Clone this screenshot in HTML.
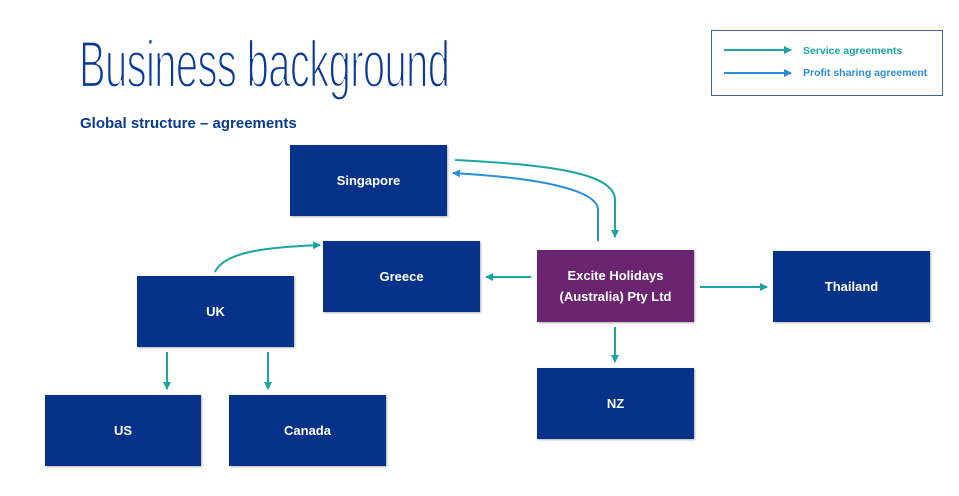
<!DOCTYPE html>
<html><head><style>
body{margin:0;background:#fff;width:959px;height:496px;overflow:hidden;position:relative;font-family:"Liberation Sans",sans-serif}
.t{position:absolute;left:79px;top:26px;font-size:66px;color:#0a3a97;font-weight:normal;transform:scaleX(0.605);transform-origin:0 0;white-space:nowrap;letter-spacing:-1px;-webkit-text-stroke:2.2px #fff;paint-order:normal}
.s{position:absolute;left:80px;top:115px;font-size:15px;font-weight:bold;color:#0a3a8f}
.b{position:absolute;background:#063389;color:#fff;font-size:13px;font-weight:bold;display:flex;align-items:center;justify-content:center;text-align:center;box-shadow:1px 1px 2px rgba(0,0,0,.3);line-height:21px}
</style></head><body>
<div class="t">Business background</div>
<div class="s">Global structure – agreements</div>
<div class="b" style="left:290px;top:145px;width:157px;height:71px">Singapore</div>
<div class="b" style="left:323px;top:241px;width:157px;height:71px">Greece</div>
<div class="b" style="left:137px;top:276px;width:157px;height:71px">UK</div>
<div class="b" style="left:45px;top:395px;width:156px;height:71px">US</div>
<div class="b" style="left:229px;top:395px;width:157px;height:71px">Canada</div>
<div class="b" style="left:537px;top:250px;width:157px;height:72px;background:#6a2470">Excite Holidays<br>(Australia) Pty Ltd</div>
<div class="b" style="left:537px;top:368px;width:157px;height:71px">NZ</div>
<div class="b" style="left:773px;top:251px;width:157px;height:71px">Thailand</div>
<div style="position:absolute;left:711px;top:30px;width:230px;height:64px;border:1.5px solid #4a5fa0"></div>
<div style="position:absolute;left:803px;top:45px;font-size:10.5px;font-weight:bold;color:#1aa5a0">Service agreements</div>
<div style="position:absolute;left:803px;top:67px;font-size:10.5px;font-weight:bold;color:#2a8fd8">Profit sharing agreement</div>
<svg width="959" height="496" style="position:absolute;left:0;top:0">
<defs>
<marker id="g" markerWidth="8" markerHeight="8" refX="7" refY="4" orient="auto" markerUnits="userSpaceOnUse"><path d="M0,0L8,4L0,8z" fill="#1aa5a0"/></marker>
<marker id="bl" markerWidth="8" markerHeight="8" refX="7" refY="4" orient="auto" markerUnits="userSpaceOnUse"><path d="M0,0L8,4L0,8z" fill="#2a8fd8"/></marker>
</defs>
<g fill="none" stroke-width="2">
<path d="M724,50H791" stroke="#1aa5a0" marker-end="url(#g)"/>
<path d="M724,73H791" stroke="#2a8fd8" marker-end="url(#bl)"/>
<path d="M455,160C560,165 615,175 615,200V237" stroke="#1aa5a0" marker-end="url(#g)"/>
<path d="M598,241V210C598,190 540,178 453,173" stroke="#2a8fd8" marker-end="url(#bl)"/>
<path d="M531,277H486" stroke="#1aa5a0" marker-end="url(#g)"/>
<path d="M700,287H767" stroke="#1aa5a0" marker-end="url(#g)"/>
<path d="M615,327V362" stroke="#1aa5a0" marker-end="url(#g)"/>
<path d="M215,272C225,250 275,247 320,245" stroke="#1aa5a0" marker-end="url(#g)"/>
<path d="M167,352V389" stroke="#1aa5a0" marker-end="url(#g)"/>
<path d="M268,352V389" stroke="#1aa5a0" marker-end="url(#g)"/>
</g></svg>
</body></html>
